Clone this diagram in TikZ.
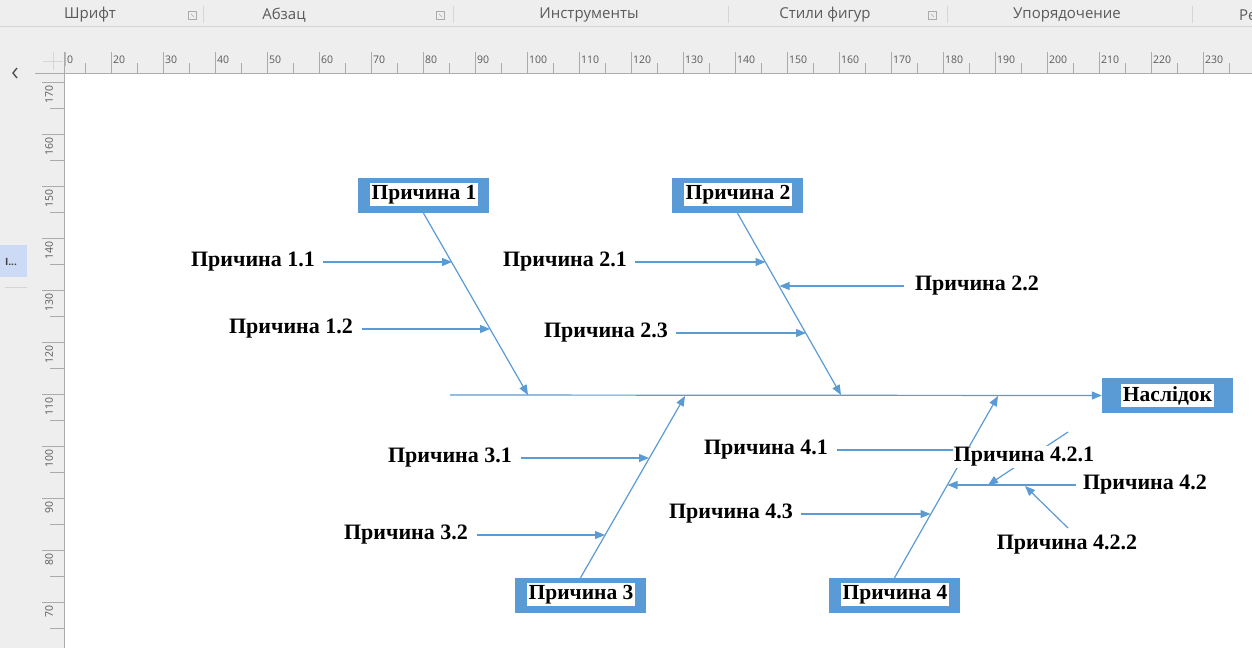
\documentclass[tikz,border=0pt]{standalone}
\usepackage{fontspec}
\setmainfont{Liberation Serif}
\newfontfamily\uifont{Open Sans}
\usetikzlibrary{arrows.meta}
\definecolor{vblue}{HTML}{5B9BD5}
\definecolor{uigray}{HTML}{EEEEEE}
\definecolor{uitext}{HTML}{5A5A5A}
\definecolor{ruleline}{HTML}{ABABAB}
\definecolor{sepline}{HTML}{D6D6D6}
\definecolor{hilite}{HTML}{CCDAF5}
\begin{document}
\begin{tikzpicture}[x=1pt,y=-1pt,
  conn/.style={vblue, line width=1.2pt},
  arr/.style={conn, -{Triangle[length=10pt,width=8pt]}},
  lbl/.style={font=\fontsize{22}{24}\selectfont\bfseries, inner sep=0pt},
  causebox/.style={fill=vblue, minimum width=131pt, minimum height=35pt, inner sep=0pt},
  boxtext/.style={fill=white, font=\fontsize{21.5}{24}\selectfont\bfseries, inner xsep=1.5pt, inner ysep=1.8pt},
  rtick/.style={ruleline, line width=0.8pt},
  rlabel/.style={font=\uifont\fontsize{10.5}{12}\selectfont, text=uitext, inner sep=0pt},
  ribbon/.style={font=\uifont\fontsize{15}{17}\selectfont, text=uitext, inner sep=0pt},
]
\useasboundingbox (0,0) rectangle (1252,648);
% ---------- application frame ----------
\fill[uigray] (0,0) rectangle (1252,648);
\fill[white] (64,73) rectangle (1252,648);
\draw[sepline, line width=1pt] (0,26) -- (1252,26);
% ribbon group names
\node[ribbon] (g1) at (90,15) {Шрифт};
\node[ribbon] (g2) at (284,15) {Абзац};
\node[ribbon] (g3) at (589,15) {Инструменты};
\node[ribbon] (g4) at (825,15) {Стили фигур};
\node[ribbon] (g5) at (1067,15) {Упорядочение};
\node[ribbon, anchor=west] (g6) at (1239,15) {Ре};
% dialog launchers
\foreach \lx in {192,440,932}{
  \draw[ruleline, line width=0.6pt] (\lx-4,11) rectangle (\lx+4,19);
  \draw[ruleline, line width=0.6pt] (\lx-1,14) -- (\lx+2,17);
}
% group separators
\foreach \sx in {203,453,728,947,1192}{
  \draw[sepline, line width=0.8pt] (\sx,6) -- (\sx,23);
}
% ---------- horizontal ruler ----------
\draw[rtick] (35,73) -- (1252,73);
\draw[sepline, line width=0.8pt] (43,61) -- (63,61);
\draw[sepline, line width=0.8pt] (53,52) -- (53,70);
\draw[vblue!60, line width=0.8pt] (65,52) -- (65,66);
\node[rlabel, anchor=west] (h1) at (67,60) {0};
\draw[rtick] (85,63) -- (85,73);
\foreach \k in {2,...,23}{
  \pgfmathsetmacro\xx{111+52*(\k-2)}
  \pgfmathtruncatemacro\vv{10*\k}
  \draw[rtick] (\xx,52) -- (\xx,73);
  \draw[rtick] (\xx+26,63) -- (\xx+26,73);
  \node[rlabel, anchor=west] (h\k) at (\xx+2,60) {\vv};
}
% ---------- vertical ruler ----------
\draw[rtick] (64,52) -- (64,648);
\foreach \j in {0,...,10}{
  \pgfmathsetmacro\yy{82+52*\j}
  \pgfmathtruncatemacro\vv{170-10*\j}
  \draw[rtick] (42,\yy) -- (64,\yy);
  \draw[rtick] (50,\yy+26) -- (64,\yy+26);
  \node[rlabel, rotate=90, anchor=east] (v\j) at (49,\yy+3) {\vv};
}
% left panel
\draw[black!70, line width=1.4pt] (17,68) -- (13,73) -- (17,78);
\fill[hilite] (0,245) rectangle (27,277);
\node[font=\uifont\fontsize{10}{12}\selectfont\bfseries, text=black!75, inner sep=0pt] (lp) at (11,262) {I...};
\draw[sepline, line width=0.8pt] (5,287) -- (27,287);
% ---------- fishbone diagram ----------
% main boxes
\node[causebox] (p1) at (423.5,195.5) {};
\node[boxtext] (p1t) at (424,194.5) {Причина 1};
\node[causebox] (p2) at (737.5,195.5) {};
\node[boxtext] (p2t) at (738,194.5) {Причина 2};
\node[causebox] (p3) at (580.5,595.5) {};
\node[boxtext] (p3t) at (581,594.5) {Причина 3};
\node[causebox] (p4) at (894.5,595.5) {};
\node[boxtext] (p4t) at (895,594.5) {Причина 4};
\node[causebox] (res) at (1167.5,395.5) {};
\node[boxtext] (rest) at (1167.5,395.5) {Наслідок};
% spine
\coordinate (sp0) at (450,395);
\draw[arr] (sp0) -- (res.west);
% branch ends
\coordinate (e1) at (528,395);
\coordinate (e2) at (841,395);
\coordinate (e3) at (685,396);
\coordinate (e4) at (998,396);
\draw[arr] (p1.south) -- (e1);
\draw[arr] (p2.south) -- (e2);
\draw[arr] (p3.north) -- (e3);
\draw[arr] (p4.north) -- (e4);
% points on branches
\coordinate (c11) at (452,262);
\coordinate (c12) at (490,329);
\coordinate (c21) at (765.5,262);
\coordinate (c22) at (779.5,286);
\coordinate (c23) at (806,333);
\coordinate (c31) at (649,458);
\coordinate (c32) at (605,535);
\coordinate (c41) at (967,450);
\coordinate (c42) at (947.5,485);
\coordinate (c43) at (930.5,514);
\coordinate (c421) at (988,485);
\coordinate (c422) at (1025,486);
\coordinate (s421) at (1068,432);
\coordinate (s422) at (1068,528);
% sub-cause labels
\node[lbl] (t11) at (253,262) {Причина 1.1};
\node[lbl] (t12) at (291,329) {Причина 1.2};
\node[lbl] (t21) at (565,262) {Причина 2.1};
\node[lbl] (t22) at (977,286) {Причина 2.2};
\node[lbl] (t23) at (606,333) {Причина 2.3};
\node[lbl] (t31) at (450,458) {Причина 3.1};
\node[lbl] (t32) at (406,535) {Причина 3.2};
\node[lbl] (t41) at (766,450) {Причина 4.1};
\node[lbl] (t42) at (1145,485) {Причина 4.2};
\node[lbl] (t43) at (731,514) {Причина 4.3};
\node[lbl] (t422) at (1067,545) {Причина 4.2.2};
% sub-cause arrows
\draw[arr] ([xshift=8pt]t11.east) -- (c11);
\draw[arr] ([xshift=9pt]t12.east) -- (c12);
\draw[arr] ([xshift=8pt]t21.east) -- (c21);
\draw[arr] ([xshift=-11pt]t22.west) -- (c22);
\draw[arr] ([xshift=8pt]t23.east) -- (c23);
\draw[arr] ([xshift=9pt]t31.east) -- (c31);
\draw[arr] ([xshift=9pt]t32.east) -- (c32);
\draw[arr] ([xshift=9pt]t41.east) -- (c41);
\draw[arr] ([xshift=-7pt]t42.west) -- (c42);
\draw[arr] ([xshift=8pt]t43.east) -- (c43);
\draw[arr] (s421) -- (c421);
\draw[arr] (s422) -- (c422);
% label drawn over the lines
\node[lbl, fill=white, inner xsep=1pt, inner ysep=1.5pt] (t421) at (1024,457) {Причина 4.2.1};
\end{tikzpicture}
\end{document}
